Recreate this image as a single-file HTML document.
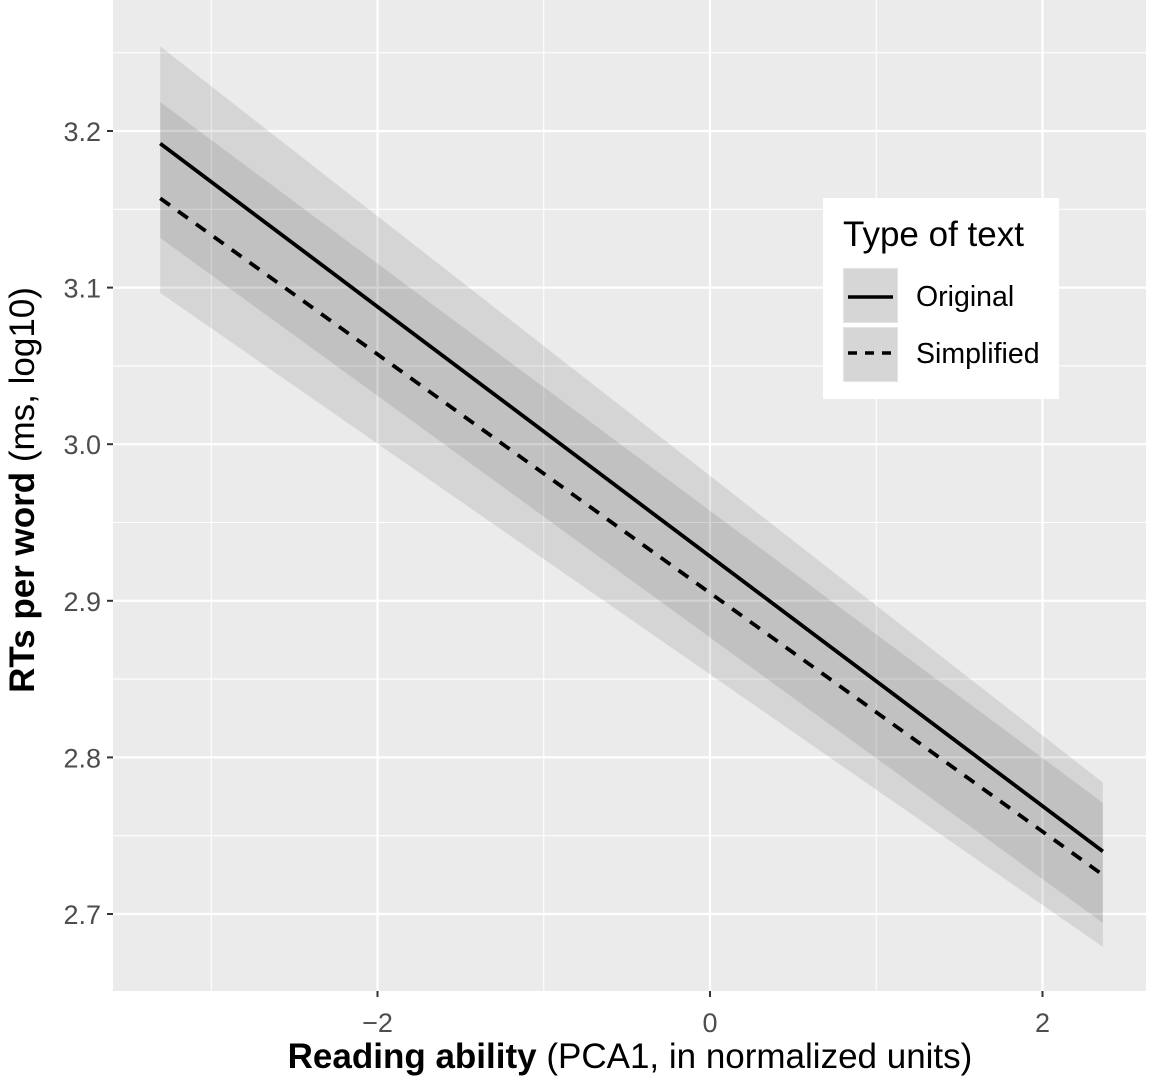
<!DOCTYPE html>
<html><head><meta charset="utf-8"><style>
html,body{margin:0;padding:0;background:#fff}
svg{display:block;font-family:"Liberation Sans",Arial,sans-serif}
</style></head><body>
<svg id="chart" width="1152" height="1083" viewBox="0 0 1152 1083">
<rect x="113" y="0" width="1033" height="991" fill="#EBEBEB"/>
<g id="grid"></g>
<g id="ribbons"></g>
<g id="lines"></g>
<g id="axes"></g>
<text x="0" y="0" transform="translate(34,490) rotate(-90)" font-size="35" text-anchor="middle" fill="#000"><tspan font-weight="bold">RTs per word</tspan> (ms, log10)</text>
<text x="630" y="1068" font-size="35" text-anchor="middle" fill="#000"><tspan font-weight="bold">Reading ability</tspan> (PCA1, in normalized units)</text>
<g>
<rect x="823" y="198" width="236" height="201" fill="#fff"/>
<text x="843" y="246" font-size="35" fill="#000">Type of text</text>
<g>
<rect x="843.5" y="268.5" width="54" height="54" fill="#D6D6D6" stroke="#E4E4E4"/>
<line x1="848" y1="297" x2="893" y2="297" stroke="#000" stroke-width="3.5"/>
<text x="916" y="306" font-size="28.5" fill="#000">Original</text>
</g>
<g>
<rect x="843.5" y="327.5" width="54" height="54" fill="#D6D6D6" stroke="#E4E4E4"/>
<line x1="848" y1="353" x2="893" y2="353" stroke="#000" stroke-width="3.5" stroke-dasharray="9,8"/>
<text x="916" y="363" font-size="28.5" fill="#000">Simplified</text>
</g>
</g>
</svg>
<script>
const xRange = [-3.307, 2.363];
const origFit = [3.192, 2.740];
const origLower = [3.1317, 2.6943];
const origUpper = [3.254, 2.784];
const simpFit = [3.157, 2.725];
const simpLower = [3.0966, 2.679];
const simpUpper = [3.2185, 2.771];
const xTicks = [-2, 0, 2];
const xTickLabels = ["\u22122", "0", "2"];
const xMinor = [-3, -1, 1, 3];
const yTicks = [2.7, 2.8, 2.9, 3.0, 3.1, 3.2];
const yTickLabels = ["2.7", "2.8", "2.9", "3.0", "3.1", "3.2"];
const yMinor = [2.65, 2.75, 2.85, 2.95, 3.05, 3.15, 3.25];

const NS = "http://www.w3.org/2000/svg";
const PL = 113, PR = 1146, PT = 0, PB = 991;
function sx(v){ return 710 + v * 166.25; }
function sy(v){ return 131 + (3.2 - v) * 1566; }
function mk(tag, attrs, parent){
  const e = document.createElementNS(NS, tag);
  for (const k in attrs) e.setAttribute(k, attrs[k]);
  parent.appendChild(e);
  return e;
}
const grid = document.getElementById('grid');
const axes = document.getElementById('axes');
xMinor.forEach(v => {
  const x = sx(v); if (x < PL || x > PR) return;
  const l = mk('line', {x1:x, x2:x, y1:PT, y2:PB, stroke:'#fff', 'stroke-width':1.1}, grid);
  
  
});
yMinor.forEach(v => {
  const y = sy(v); if (y < PT || y > PB) return;
  const l = mk('line', {x1:PL, x2:PR, y1:y, y2:y, stroke:'#fff', 'stroke-width':1.1}, grid);
  
  
});
xTicks.forEach((v, i) => {
  const x = sx(v);
  const l = mk('line', {x1:x, x2:x, y1:PT, y2:PB, stroke:'#fff', 'stroke-width':2.2}, grid);
  
  
  const t = mk('line', {x1:x, x2:x, y1:PB, y2:PB+6, stroke:'#333', 'stroke-width':2}, axes);
  
  
  const tx = mk('text', {x:x, y:PB+41, 'font-size':27, 'text-anchor':'middle', fill:'#4D4D4D'}, axes);
  tx.textContent = xTickLabels[i];
  
  
});
yTicks.forEach((v, i) => {
  const y = sy(v);
  const l = mk('line', {x1:PL, x2:PR, y1:y, y2:y, stroke:'#fff', 'stroke-width':2.2}, grid);
  
  
  const t = mk('line', {x1:PL-6, x2:PL, y1:y, y2:y, stroke:'#333', 'stroke-width':2}, axes);
  
  
  const tx = mk('text', {x:PL-12, y:y+10, 'font-size':27, 'text-anchor':'end', fill:'#4D4D4D'}, axes);
  tx.textContent = yTickLabels[i];
  
  
});
const rib = document.getElementById('ribbons');
function ribbon(lo, hi, name){
  const pts = [];
  for (let i = 0; i < xRange.length; i++) pts.push(sx(xRange[i]) + ',' + sy(hi[i]));
  for (let i = xRange.length - 1; i >= 0; i--) pts.push(sx(xRange[i]) + ',' + sy(lo[i]));
  const p = mk('polygon', {points:pts.join(' '), fill:'#000', 'fill-opacity':0.09}, rib);
  
  
}
ribbon(origLower, origUpper, 'ribbon-original');
ribbon(simpLower, simpUpper, 'ribbon-simplified');
const lines = document.getElementById('lines');
function line(fit, dash, name){
  const pts = xRange.map((v, i) => sx(v) + ',' + sy(fit[i])).join(' ');
  const attrs = {points:pts, fill:'none', stroke:'#000', 'stroke-width':3.8};
  if (dash) attrs['stroke-dasharray'] = '12,10';
  const p = mk('polyline', attrs, lines);
  
  
}
line(origFit, false, 'line-original');
line(simpFit, true, 'line-simplified');
</script>
</body></html>
